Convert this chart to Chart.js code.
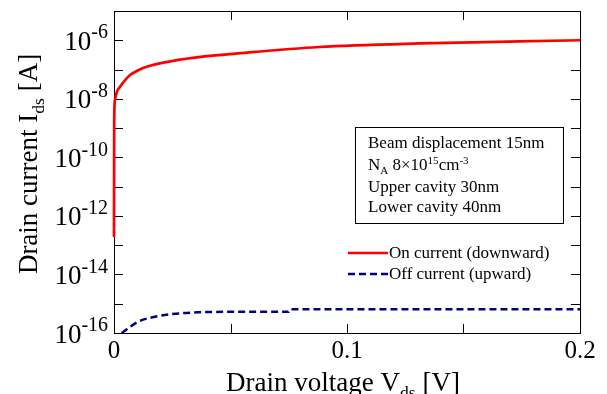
<!DOCTYPE html>
<html>
<head>
<meta charset="utf-8">
<script src="https://cdn.jsdelivr.net/npm/chart.js@4/dist/chart.umd.min.js"></script>
<style>
  html, body { margin: 0; padding: 0; background: #fff; }
</style>
</head>
<body>
<canvas id="chart" width="607" height="394"></canvas>
<script>
// values
const onVoltage = [0, 0.0001, 0.0004, 0.0012, 0.0026, 0.0047, 0.0069, 0.0104, 0.0147, 0.0248, 0.039, 0.052, 0.088, 0.131, 0.174, 0.2];
const onCurrent = [1.9e-13, 1.9e-9, 8.9e-9, 1.7e-8, 2.6e-8, 4.3e-8, 6.5e-8, 9.5e-8, 1.3e-7, 1.95e-7, 2.8e-7, 3.5e-7, 5.9e-7, 7.8e-7, 9.1e-7, 1.0e-6];
const offVoltage = [0.0033, 0.0104, 0.0176, 0.0248, 0.036, 0.053, 0.075, 0.0755, 0.2];
const offCurrent = [1.0e-16, 2.45e-16, 3.6e-16, 4.4e-16, 5.1e-16, 5.3e-16, 5.3e-16, 6.5e-16, 6.5e-16];

const seriesNames = ['On current (downward)', 'Off current (upward)'];
const xTicks = [0, 0.05, 0.1, 0.15, 0.2];
const xTickLabels = ['0', '', '0.1', '', '0.2'];
const yTicks = [1e-16, 1e-15, 1e-14, 1e-13, 1e-12, 1e-11, 1e-10, 1e-9, 1e-8, 1e-7, 1e-6];
const yTickExps = ['-16', '', '-14', '', '-12', '', '-10', '', '-8', '', '-6'];

const xTitle = [['Drain voltage V'], ['ds', 'sub'], [' [V]']];
const yTitle = [['Drain current I'], ['ds', 'sub'], [' [A]']];
const noteLines = [
  [['Beam displacement 15nm']],
  [['N'], ['A', 'sub'], [' 8\u00d710'], ['15', 'sup'], ['cm'], ['-3', 'sup']],
  [['Upper cavity 30nm']],
  [['Lower cavity 40nm']]
];

const FONT = '"Liberation Serif", "Times New Roman", serif';

function richText(ctx, segs, x, y, size, align, ratio = 0.65, raise = 0.37) {
  const parts = segs.map(([t, mode]) => {
    const s = mode ? size * ratio : size;
    const dy = mode === 'sup' ? -size * raise : mode === 'sub' ? size * 0.25 : 0;
    ctx.font = s + 'px ' + FONT;
    return { t, s, dy, w: ctx.measureText(t).width };
  });
  const total = parts.reduce((a, p) => a + p.w, 0);
  let cx = align === 'right' ? x - total : align === 'center' ? x - total / 2 : x;
  parts.forEach(p => {
    ctx.font = p.s + 'px ' + FONT;
    ctx.fillText(p.t, cx, y + p.dy);
    cx += p.w;
  });
}

const decorations = {
  id: 'decorations',
  beforeDatasetsDraw(chart) {
    const ctx = chart.ctx;
    const a = chart.chartArea;
    const xs = chart.scales.x, ys = chart.scales.y;
    ctx.save();
    ctx.strokeStyle = '#000';
    ctx.lineWidth = 1;
    ctx.strokeRect(a.left + 0.5, a.top + 0.5, a.right - a.left, a.bottom - a.top);

    // inward ticks
    const tl = 9;
    ctx.beginPath();
    yTicks.forEach(v => {
      const py = Math.round(ys.getPixelForValue(v)) + 0.5;
      ctx.moveTo(a.left, py); ctx.lineTo(a.left + tl, py);
      ctx.moveTo(a.right, py); ctx.lineTo(a.right - tl, py);
    });
    xTicks.forEach(v => {
      const px = Math.round(xs.getPixelForValue(v)) + 0.5;
      ctx.moveTo(px, a.bottom); ctx.lineTo(px, a.bottom - tl);
      ctx.moveTo(px, a.top); ctx.lineTo(px, a.top + tl);
    });
    ctx.stroke();
    ctx.restore();
  },
  afterDraw(chart) {
    const ctx = chart.ctx;
    const a = chart.chartArea;
    const ys = chart.scales.y;
    ctx.save();
    ctx.fillStyle = '#000';
    ctx.strokeStyle = '#000';
    ctx.lineWidth = 1;
    ctx.textAlign = 'left';
    ctx.textBaseline = 'alphabetic';

    // y tick labels 10^n
    yTicks.forEach((v, i) => {
      if (!yTickExps[i]) return;
      const py = ys.getPixelForValue(v);
      richText(ctx, [['10'], [yTickExps[i], 'sup']], a.left - 6, py + 9.5, 27, 'right', 0.74, 0.42);
    });

    // axis titles
    richText(ctx, xTitle, 343, 391, 27, 'center');
    ctx.save();
    ctx.translate(37, 164);
    ctx.rotate(-Math.PI / 2);
    richText(ctx, yTitle, 0, 0, 27, 'center');
    ctx.restore();

    // parameter box
    ctx.strokeRect(355.5, 127.5, 208, 96);
    const noteY = [148, 170, 192, 212];
    noteLines.forEach((line, i) => richText(ctx, line, 368, noteY[i], 17, 'left'));

    // legend
    const legY = [253, 274];
    chart.data.datasets.forEach((ds, i) => {
      ctx.save();
      ctx.strokeStyle = ds.borderColor;
      ctx.lineWidth = ds.borderWidth;
      ctx.setLineDash(ds.borderDash || []);
      ctx.beginPath();
      ctx.moveTo(348, legY[i]);
      ctx.lineTo(388, legY[i]);
      ctx.stroke();
      ctx.restore();
      richText(ctx, [[ds.label]], 389, legY[i] + 5, 17, 'left');
    });
    ctx.restore();
  }
};

new Chart(document.getElementById('chart'), {
  type: 'line',
  data: {
    datasets: [
      {
        label: seriesNames[0],
        data: onVoltage.map((v, i) => ({ x: v, y: onCurrent[i] })),
        borderColor: '#ff0000',
        borderWidth: 2.7,
        pointRadius: 0,
        fill: false,
        cubicInterpolationMode: 'monotone',
        clip: 3
      },
      {
        label: seriesNames[1],
        data: offVoltage.map((v, i) => ({ x: v, y: offCurrent[i] })),
        borderColor: '#000080',
        borderWidth: 2.5,
        borderDash: [7, 4],
        pointRadius: 0,
        fill: false,
        cubicInterpolationMode: 'monotone',
        clip: 3
      }
    ]
  },
  options: {
    responsive: false,
    animation: false,
    layout: { padding: { left: 0, top: 11, right: 27, bottom: 0 } },
    plugins: { legend: { display: false }, tooltip: { enabled: false } },
    scales: {
      x: {
        type: 'linear',
        min: 0,
        max: 0.2,
        afterBuildTicks: s => { s.ticks = xTicks.map(v => ({ value: v })); },
        afterFit: s => { s.height = 61; },
        grid: { display: false, drawTicks: false },
        border: { display: false },
        ticks: {
          autoSkip: false,
          maxRotation: 0,
          padding: 3,
          color: '#000',
          font: { family: FONT, size: 25 },
          callback: (v, i) => xTickLabels[i]
        }
      },
      y: {
        type: 'logarithmic',
        min: 1e-16,
        max: 1e-5,
        afterBuildTicks: s => { s.ticks = yTicks.map(v => ({ value: v })); },
        afterFit: s => { s.width = 114; },
        grid: { display: false, drawTicks: false },
        border: { display: false },
        ticks: { display: false }
      }
    }
  },
  plugins: [decorations]
});
</script>
</body>
</html>
